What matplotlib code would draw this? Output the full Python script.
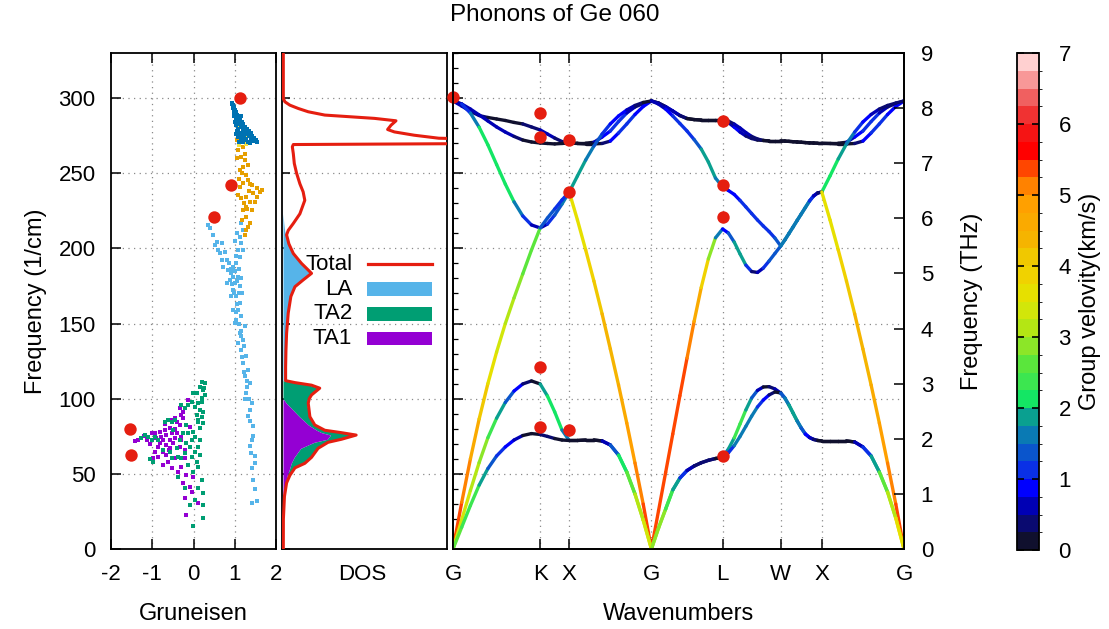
import numpy as np
import matplotlib
matplotlib.use('Agg')
import matplotlib.pyplot as plt
from matplotlib.collections import LineCollection
from matplotlib.colors import ListedColormap, BoundaryNorm
from matplotlib.patches import Rectangle
import matplotlib.colorbar as mcolorbar

plt.rcParams['font.family'] = ['Liberation Sans', 'DejaVu Sans']
FS = 16
FSL = 17

# ---------------- DATA ----------------
# high-symmetry path (units of 2pi/a)
node_labels = ['G', 'K', 'X', 'G', 'L', 'W', 'X', 'G']
node_q = [0.0, 1.0607, 1.4142, 2.4142, 3.2802, 3.9873, 4.4873, 5.4873]
seg_intervals = [10, 4, 10, 10, 10, 10, 10]

# branch frequencies (cm^-1) at sample points along the path
TA1 = [0, 14.5, 29.0, 42.5, 53.5, 61.9, 67.9, 72.5, 75.5, 76.8, 76.2,
       74.9, 73.5, 72.5, 72.2,
       72.2, 72.5, 72.5, 71.9, 69.2, 62.5, 51.2, 36.6, 19.3, 0,
       14.0, 26.6, 39.3, 47.2, 52.2, 55.2, 57.4, 59.0, 60.2, 61.0,
       64.0, 68.8, 74.9, 81.6, 88.4, 94.5, 99.1, 102.5, 104.5, 103.8,
       100.5, 95.8, 90.5, 85.2, 80.5, 76.5, 74.2, 72.9, 72.2, 71.9,
       71.9, 71.9, 71.9, 71.2, 67.9, 61.9, 51.2, 37.9, 20.6, 0]
TA2 = [0, 19.5, 39.0, 57.5, 74.0, 87.0, 97.5, 105.1, 109.8, 111.8, 109.8,
       101.8, 91.2, 79.2, 72.2,
       72.2, 72.5, 72.5, 71.9, 69.2, 62.5, 51.2, 36.6, 19.3, 0,
       14.0, 26.6, 39.3, 47.2, 52.2, 55.2, 57.4, 59.0, 60.2, 61.0,
       66.5, 73.9, 83.2, 92.5, 100.5, 105.5, 107.8, 108.0, 106.5, 103.8,
       100.5, 95.8, 90.5, 85.2, 80.5, 76.5, 74.2, 72.9, 72.2, 71.9,
       71.9, 71.9, 71.9, 71.2, 67.9, 61.9, 51.2, 37.9, 20.6, 0]
LA = [0, 31.0, 60.0, 86.5, 110.0, 131.0, 150.0, 167.0, 183.0, 198.9, 213.6,
      220.2, 226.2, 232.2, 237.5,
      218.9, 199.0, 178.3, 156.4, 133.1, 109.1, 83.8, 57.2, 29.9, 0,
      25.5, 51.0, 76.5, 102.0, 127.0, 151.5, 174.0, 193.0, 207.0, 212.9,
      210.2, 204.2, 196.3, 188.9, 184.6, 184.0, 186.9, 191.6, 196.6, 201.6,
      205.6, 209.9, 214.2, 218.6, 222.9, 227.2, 231.5, 234.9, 236.9, 237.5,
      218.9, 199.0, 178.3, 156.4, 133.1, 109.1, 83.8, 57.2, 29.9, 0]
LO = [298.1, 296.0, 290.0, 280.6, 268.9, 255.8, 242.8, 231.0, 221.6, 215.6, 213.6,
      216.2, 222.2, 229.5, 237.5,
      248.2, 258.8, 268.1, 276.1, 282.8, 288.1, 292.1, 295.1, 297.1, 298.1,
      296.0, 292.7, 288.1, 283.1, 278.1, 272.4, 266.1, 257.5, 246.8, 240.9,
      238.5, 235.9, 231.9, 227.6, 223.2, 218.9, 214.9, 211.2, 206.9, 201.6,
      205.6, 209.9, 214.2, 218.6, 222.9, 227.2, 231.5, 234.9, 236.9, 237.5,
      248.2, 259.5, 269.5, 277.4, 284.1, 289.1, 292.7, 295.1, 296.7, 298.1]
TO1 = [298.1, 296.1, 292.7, 288.8, 284.8, 280.8, 277.4, 274.5, 272.1, 270.8, 270.1,
       269.8, 269.5, 269.8, 270.1,
       269.8, 269.5, 269.5, 269.8, 271.4, 276.8, 282.8, 289.1, 294.4, 298.1,
       296.7, 294.3, 291.4, 288.4, 286.4, 285.7, 285.4, 285.4, 285.4, 285.4,
       284.7, 282.7, 280.1, 277.1, 274.5, 272.8, 271.8, 271.5, 271.5, 271.5,
       271.4, 271.2, 271.0, 270.8, 270.6, 270.4, 270.2, 270.1, 270.0, 270.0,
       269.8, 269.5, 269.5, 269.8, 271.4, 276.8, 282.8, 289.1, 294.4, 298.1]
TO2 = [298.1, 294.7, 291.1, 288.4, 287.1, 286.1, 285.1, 283.8, 282.8, 280.8, 278.8,
       276.1, 273.4, 271.1, 269.9,
       270.0, 270.0, 270.6, 274.1, 278.1, 284.4, 290.1, 294.1, 296.4, 298.1,
       296.7, 294.3, 291.4, 288.4, 286.4, 285.7, 285.4, 285.4, 285.4, 285.4,
       283.7, 280.7, 277.4, 274.8, 273.1, 272.1, 271.8, 271.5, 271.5, 271.5,
       271.4, 271.2, 271.0, 270.8, 270.6, 270.4, 270.2, 270.1, 270.0, 270.0,
       270.0, 270.0, 270.6, 274.1, 278.1, 284.4, 290.1, 294.1, 296.4, 298.1]

# experimental points on the dispersion (q, cm^-1)
exp_q = [0.0, 1.0607, 1.0607, 1.4142, 1.4142, 3.2802, 3.2802, 3.2802,
         1.0607, 1.0607, 1.4142, 3.2802]
exp_f = [300.5, 289.9, 274.3, 272.1, 237.7, 285.0, 242.0, 221.1,
         121.1, 81.2, 79.2, 62.1]

# Gruneisen parameters (gamma, cm^-1)
gTA1_g = [-0.332, -0.252, -0.291, -0.453, -0.533, -0.412, -0.332, -0.575, -0.696, -0.817,
          -0.938, -0.655, -0.533, -0.412, -0.776, -0.897, -1.018, -1.342, -1.423, -1.139,
          -0.737, -0.575, -0.453, -0.291, -0.817, -0.655, -0.495, -0.332, -0.858, -0.938,
          -0.737, -0.575, -0.211, -0.858, -0.655, -0.453, -0.979, -0.616, -0.211, -0.737,
          -0.533, -0.291, -0.373, -0.170, -0.010, -0.252, -0.090, -0.048, -0.211, 0.112,
          -0.170, -0.291, -0.131, -0.090, -1.20, -1.05, -0.70, -0.45, -0.25, -0.60]
gTA1_f = [93.6, 91.4, 89.2, 86.9, 85.8, 84.7, 82.5, 80.3, 79.2, 78.1,
          77.0, 75.9, 77.0, 77.0, 74.7, 73.6, 77.0, 72.5, 72.1, 72.5,
          72.5, 72.5, 73.6, 74.7, 70.3, 69.2, 70.3, 68.1, 68.1, 64.8,
          64.8, 67.0, 65.9, 61.4, 62.5, 60.3, 60.3, 58.1, 60.3, 55.9,
          53.7, 54.8, 51.5, 49.2, 48.1, 43.7, 41.5, 38.2, 33.7, 30.4,
          22.8, 72.5, 99.2, 81.4, 75.0, 70.0, 83.0, 80.0, 87.0, 66.0]
gTA2_g = [0.194, 0.274, 0.153, 0.233, 0.073, 0.274, -0.010, 0.194, -0.048, 0.112,
          0.032, -0.131, -0.211, -0.291, 0.153, 0.233, 0.073, 0.194, 0.112, 0.233,
          0.153, -0.010, -0.131, 0.032, 0.153, -0.048, -0.170, 0.112, -0.090, 0.032,
          -0.211, 0.153, -0.048, -0.291, 0.073, -0.131, 0.112, -0.010, -0.373, 0.194,
          -0.211, 0.112, 0.233, 0.032, -0.090, 0.233, -0.010, 0.233,
          -0.616, -0.533, -0.696, -0.453, -1.181, -1.100, -1.261, -1.018, -0.938, -0.858,
          -1.059, -0.979, -0.737, -0.575, -0.412, -0.332, -0.495, -0.252, -0.170, -0.373,
          -0.533, 0.25, 0.20, 0.10]
gTA2_f = [111.3, 110.2, 108.0, 105.8, 103.6, 102.5, 104.0, 100.3, 98.1, 96.9,
          94.7, 95.8, 93.6, 95.8, 92.5, 91.4, 89.2, 88.1, 84.7, 83.6,
          80.3, 78.1, 77.0, 74.7, 72.5, 72.5, 70.3, 68.1, 68.1, 64.8,
          63.6, 62.5, 61.4, 60.3, 58.1, 55.9, 54.8, 51.5, 48.1, 45.9,
          40.4, 40.4, 37.1, 32.6, 29.3, 29.3, 15.0, 20.5,
          85.8, 84.7, 84.7, 85.8, 75.9, 74.7, 73.6, 72.5, 74.7, 72.5,
          59.6, 58.1, 65.9, 64.8, 67.0, 72.5, 79.2, 77.0, 82.5, 61.4,
          60.3, 107.0, 98.0, 86.0]
gLA_g = [0.40, 0.48, 0.56, 0.60, 0.68, 0.64, 0.76, 0.80, 0.72, 0.84,
         0.92, 0.96, 1.04, 1.12, 1.20, 1.16, 1.12, 1.20, 1.16, 1.08,
         1.00, 1.12, 0.96, 1.04, 1.12, 1.08, 1.16, 1.04, 1.24, 1.12,
         1.20, 1.16, 1.28, 1.20, 1.32, 1.24, 1.36, 1.28, 1.41, 1.36,
         1.32, 1.45, 1.41, 1.36, 1.49, 1.41, 1.45, 1.53, 1.41, 0.88,
         0.80, 0.92, 0.96, 1.00, 1.08, 0.86, 0.90, 0.95, 1.00, 1.05,
         1.10, 1.02, 1.08, 0.94, 1.14, 1.18, 1.06, 1.00, 1.05, 1.10,
         0.36, 0.52, 0.70, 1.15, 1.22, 1.30, 1.25, 0.98, 1.02, 1.10,
         1.14, 1.18, 1.22, 1.30, 1.34, 1.38, 1.44, 1.48, 1.40, 1.50]
gLA_f = [213.3, 208.9, 204.5, 199.0, 203.4, 196.8, 197.9, 192.4, 187.9, 185.7,
         183.5, 187.9, 190.2, 194.6, 199.0, 203.4, 207.8, 212.2, 216.7, 181.3,
         176.9, 174.7, 172.5, 168.0, 163.6, 159.2, 154.7, 152.5, 148.1, 143.7,
         139.2, 132.6, 128.2, 123.7, 119.3, 114.9, 110.4, 103.8, 97.1, 92.7,
         88.3, 81.6, 72.8, 68.3, 61.7, 53.9, 46.2, 31.7, 30.6, 179.1,
         176.9, 168.0, 159.2, 150.3, 137.0, 190.0, 186.0, 181.0, 185.0, 178.0,
         186.0, 195.0, 199.0, 176.0, 180.0, 170.0, 163.0, 205.0, 210.0, 170.0,
         215.5, 202.0, 192.0, 145.0, 135.0, 112.0, 100.0, 170.0, 158.0, 150.0,
         142.0, 128.0, 118.0, 108.0, 100.0, 85.0, 75.0, 57.0, 64.0, 40.0]
gLO_g = [1.12, 1.28, 1.20, 1.08, 1.16, 1.24, 1.20, 1.12, 1.28, 1.32,
         1.20, 1.41, 1.53, 1.61, 1.45, 1.28, 1.16, 1.36, 1.49, 1.28,
         1.20, 1.41, 1.28, 1.36, 1.28, 1.24, 1.08, 1.12, 1.53, 1.65,
         1.32, 1.06, 1.18, 1.10, 1.35, 1.22, 1.30, 1.17, 1.32, 1.38,
         1.05, 1.25]
gLO_f = [276.6, 273.2, 267.7, 265.5, 261.0, 258.8, 254.4, 252.1, 248.8, 245.5,
         243.3, 242.2, 240.0, 237.8, 236.7, 234.4, 233.3, 231.1, 231.1, 227.7,
         225.5, 225.5, 221.1, 216.6, 212.2, 208.9, 235.5, 241.1, 234.4, 238.9,
         255.5, 272.1, 250.0, 246.0, 238.0, 230.0, 226.0, 219.0, 214.0, 243.0,
         260.0, 263.0]
gTO1_g = [1.05, 1.12, 1.20, 1.08, 1.16, 1.28, 1.03, 1.10, 1.24]
gTO1_f = [277.0, 274.5, 272.5, 280.0, 270.5, 269.5, 284.0, 268.5, 275.0]
gTO2_g = [0.93, 0.95, 0.96, 0.98, 1.00, 1.03, 0.99, 1.06, 1.09, 1.02,
          1.13, 1.06, 1.17, 1.21, 1.10, 1.03, 1.26, 1.15, 1.30, 1.07,
          1.20, 1.34, 1.25, 1.11, 1.39, 1.30, 1.17, 1.43, 1.35, 1.22,
          1.09, 1.47, 1.40, 1.28, 1.15, 1.51, 1.45, 1.33, 1.55, 1.21,
          1.38, 1.10, 1.04, 1.14, 0.97, 0.94, 0.97, 1.01, 1.04, 1.08,
          1.12, 1.16, 1.24, 1.28, 1.32, 1.37, 1.41, 1.45, 1.50, 1.26,
          1.18, 1.13, 1.20, 1.05, 1.00]
gTO2_f = [297.0, 295.5, 293.5, 292.0, 290.0, 290.5, 288.0, 288.5, 287.0, 286.0,
          285.5, 284.5, 284.0, 282.5, 282.5, 282.0, 281.0, 280.5, 279.5, 279.5,
          279.0, 278.0, 277.5, 277.0, 276.5, 276.0, 275.5, 275.0, 274.5, 274.0,
          274.0, 273.5, 273.0, 272.5, 272.0, 272.0, 271.2, 271.0, 270.6, 270.8,
          270.3, 271.0, 276.0, 288.0, 291.0, 296.0, 294.0, 292.0, 289.0, 285.0,
          283.0, 281.5, 279.5, 278.0, 277.0, 275.5, 274.0, 272.5, 271.5, 272.0,
          273.0, 274.5, 276.0, 278.0, 284.0]
exp_g_gamma = [1.12, 0.90, 0.50, -1.54, -1.52]
exp_g_freq = [300.3, 242.0, 221.0, 79.6, 62.3]

# DOS (arbitrary units) vs frequency (cm^-1)
dos_f = [0, 20, 35, 44, 49, 54, 57, 61, 67, 71, 73, 75.8, 77.4, 79, 82.5, 88, 97, 100,
         102.5, 107, 109, 110.7, 112, 121, 132, 143.5, 157, 168, 174.5, 179, 183.4,
         185.6, 190, 196.6, 203, 209, 212, 216.6, 223, 232, 237.6, 243, 250, 256.5,
         263, 267.6, 269.1, 269.8, 272.5, 273.3, 275.3, 277.5, 279.1, 282, 284.9,
         286.5, 288.7, 290.9, 293.1, 295.3, 297.5, 299.7, 330]
dos_total = [0.002, 0.0025, 0.009, 0.022, 0.042, 0.073, 0.133, 0.174, 0.214, 0.275,
             0.356, 0.446, 0.356, 0.255, 0.194, 0.164, 0.154, 0.160, 0.174, 0.224,
             0.174, 0.073, 0.016, 0.016, 0.018, 0.022, 0.032, 0.048, 0.073, 0.123,
             0.174, 0.154, 0.113, 0.063, 0.036, 0.022, 0.032, 0.063, 0.103, 0.133,
             0.123, 0.103, 0.083, 0.069, 0.063, 0.057, 0.063, 1.3, 1.3, 0.95,
             0.80, 0.679, 0.638, 0.659, 0.689, 0.558, 0.255, 0.154, 0.093, 0.042,
             0.012, 0.002, 0.002]
dos_TA1 = [0, 0.001, 0.006, 0.016, 0.026, 0.042, 0.05, 0.068, 0.108, 0.19, 0.27, 0.29,
           0.235, 0.205, 0.155, 0.10, 0.02, 0] + [0] * 45
dos_TA2 = [0, 0.001, 0.002, 0.005, 0.014, 0.028, 0.08, 0.1, 0.1, 0.08, 0.08, 0.15,
           0.115, 0.045, 0.034, 0.058, 0.125, 0.15, 0.163, 0.212, 0.162, 0.06, 0] + [0] * 40
dos_LA = [0, 0.0005, 0.001, 0.001, 0.002, 0.003, 0.003, 0.006, 0.006, 0.005, 0.006,
          0.006, 0.006, 0.005, 0.005, 0.006, 0.009, 0.01, 0.011, 0.012, 0.012, 0.013,
          0.016, 0.016, 0.018, 0.022, 0.032, 0.048, 0.073, 0.123, 0.174, 0.154, 0.113,
          0.063, 0.034, 0.016, 0.01, 0.005, 0] + [0] * 24

cbar_ticks = [0, 1, 2, 3, 4, 5, 6, 7]
THz_ticks = [0, 1, 2, 3, 4, 5, 6, 7, 8, 9]
gru_ticks = [-2, -1, 0, 1, 2]

# ---------------- STYLE ----------------
C_PURPLE, C_GREEN, C_LBLUE = '#9400d3', '#009e73', '#56b4e9'
C_ORANGE, C_YELLOW, C_BLUE, C_RED = '#e69f00', '#f0e442', '#0072b2', '#e51e10'
pal = ['#10102e', '#0a0a70', '#0000b4', '#0000ff', '#0a30e6', '#0a55cc', '#0a7ab4',
       '#0aa090', '#14e664', '#3ce650', '#5ae63c', '#8ce628', '#b4e614', '#d2e60a',
       '#e6e000', '#f0d200', '#f0c800', '#f5b400', '#faaa00', '#ffa000', '#ff8200',
       '#ff4600', '#ff0000', '#f51414', '#f03232', '#f06060', '#f89898', '#ffd0d0']
cmap = ListedColormap(pal)
norm = BoundaryNorm(np.linspace(0, 7, 29), 28)
GRID = dict(color='#8a8a8a', linestyle=(0, (1, 3.5)), linewidth=0.9)

W, H = 1109, 629
fig = plt.figure(figsize=(W / 100, H / 100), dpi=100)


def box(x0, y0, x1, y1):
    return [x0 / W, 1 - y1 / H, (x1 - x0) / W, (y1 - y0) / H]


axg = fig.add_axes(box(111, 53, 276, 549))
axd = fig.add_axes(box(282, 53, 447, 549))
axb = fig.add_axes(box(453, 53, 904, 549))
cax = fig.add_axes(box(1017, 53, 1039, 550))

for ax in (axg, axd, axb):
    for s in ax.spines.values():
        s.set_linewidth(1.3)
    ax.set_ylim(0, 330)
    for yv in range(50, 301, 50):
        ax.axhline(yv, zorder=0, **GRID)

# ---- Gruneisen panel ----
axg.set_xlim(-2, 2)
for xv in (-1, 0, 1):
    axg.axvline(xv, zorder=0, **GRID)
for gg, ff, col in ((gTA1_g, gTA1_f, C_PURPLE), (gTA2_g, gTA2_f, C_GREEN),
                    (gLA_g, gLA_f, C_LBLUE), (gLO_g, gLO_f, C_ORANGE),
                    (gTO1_g, gTO1_f, C_YELLOW), (gTO2_g, gTO2_f, C_BLUE)):
    axg.scatter(gg, ff, s=8, marker='s', c=col, linewidths=0, zorder=3)
axg.scatter(exp_g_gamma, exp_g_freq, s=80, c=C_RED, linewidths=0, zorder=5)
axg.set_xticks(gru_ticks)
axg.set_xticklabels(['-2', '-1', '0', '1', '2'])
axg.set_yticks(range(0, 301, 50))
axg.tick_params(direction='in', length=7, width=1.1, top=True, right=False,
                labelsize=FS, pad=11)
axg.set_ylabel('Frequency (1/cm)', fontsize=FSL, labelpad=8)
axg.set_xlabel('Gruneisen', fontsize=FSL, labelpad=13)

# ---- DOS panel ----
axd.set_xlim(-0.006, 1.0)
cum1 = np.array(dos_TA1)
cum2 = cum1 + np.array(dos_TA2)
cum3 = cum2 + np.array(dos_LA)
axd.fill_betweenx(dos_f, cum2, cum3, color=C_LBLUE, linewidth=0, zorder=2)
axd.fill_betweenx(dos_f, cum1, cum2, color=C_GREEN, linewidth=0, zorder=2)
axd.fill_betweenx(dos_f, 0, cum1, color=C_PURPLE, linewidth=0, zorder=2)
axd.plot(dos_total, dos_f, color=C_RED, lw=2.2, zorder=4, solid_joinstyle='round')
axd.set_xticks([])
axd.set_yticks(range(0, 301, 50))
axd.tick_params(direction='in', length=6, width=1.1, left=True, right=False,
                labelleft=False)
tA = axd.transAxes
axd.text(0.426, 0.574, 'Total', ha='right', va='center', fontsize=FS, transform=tA, zorder=6)
axd.plot([0.519, 0.907], [0.574, 0.574], color=C_RED, lw=2.3, transform=tA, zorder=6)
for lab, yc, col in (('LA', 0.524, C_LBLUE), ('TA2', 0.474, C_GREEN), ('TA1', 0.424, C_PURPLE)):
    axd.text(0.426, yc, lab, ha='right', va='center', fontsize=FS, transform=tA, zorder=6)
    axd.add_patch(Rectangle((0.516, yc - 0.0135), 0.394, 0.027, transform=tA,
                            facecolor=col, edgecolor='none', zorder=6))

# ---- band panel ----
axb.set_xlim(node_q[0], node_q[-1])
for xv in node_q[1:-1]:
    axb.axvline(xv, zorder=0, **GRID)
Q = [node_q[0]]
for i, n in enumerate(seg_intervals):
    Q.extend(np.linspace(node_q[i], node_q[i + 1], n + 1)[1:])
Q = np.array(Q)
VFAC = 0.0185  # km/s per (cm^-1 per 2pi/a)
for br in (TO2, TO1, LO, LA, TA2, TA1):
    f = np.array(br, dtype=float)
    i0 = 0
    for n in seg_intervals:
        qs, fs = Q[i0:i0 + n + 1], f[i0:i0 + n + 1]
        v = np.abs(np.gradient(fs, qs)) * VFAC
        pts = np.column_stack([qs, fs])
        segs = np.stack([pts[:-1], pts[1:]], axis=1)
        lc = LineCollection(segs, cmap=cmap, norm=norm, linewidths=2.4,
                            capstyle='round', joinstyle='round', zorder=3)
        lc.set_array(0.5 * (v[:-1] + v[1:]))
        axb.add_collection(lc)
        i0 += n
axb.scatter(exp_q, exp_f, s=80, c=C_RED, linewidths=0, zorder=5, clip_on=False)
axb.set_xticks(node_q)
axb.set_xticklabels(node_labels)
axb.set_yticks(range(0, 301, 50))
axb.set_yticks(range(0, 331, 10), minor=True)
axb.tick_params(which='major', direction='in', length=7, width=1.1, top=True,
                right=False, labelleft=False, labelsize=FS, pad=11)
axb.tick_params(which='minor', direction='in', length=3.5, width=0.9, right=False)
axb.set_xlabel('Wavenumbers', fontsize=FSL, labelpad=13)

axr = axb.twinx()
axr.set_ylim(0, 9)
axr.set_yticks(THz_ticks)
axr.tick_params(direction='in', length=7, width=1.1, labelsize=FS, pad=12)
axr.set_ylabel('Frequency (THz)', fontsize=FSL, labelpad=20)
for s in axr.spines.values():
    s.set_linewidth(1.3)

# ---- colorbar ----
cb = mcolorbar.ColorbarBase(cax, cmap=cmap, norm=norm, ticks=cbar_ticks,
                            boundaries=np.linspace(0, 7, 29), orientation='vertical')
cb.outline.set_linewidth(1.3)
cax.tick_params(direction='in', length=5, width=1.2, left=True, right=True,
                labelsize=FS, pad=14)
cb.set_label('Group velovity(km/s)', fontsize=FSL, labelpad=6)

# ---- texts ----
fig.text(0.5, 1 - 15 / H, 'Phonons of Ge 060', ha='center', va='center', fontsize=17.5)
fig.text(362 / W, 1 - 575 / H, 'DOS', ha='center', va='center', fontsize=FS)

fig.savefig('out.png', dpi=100)
